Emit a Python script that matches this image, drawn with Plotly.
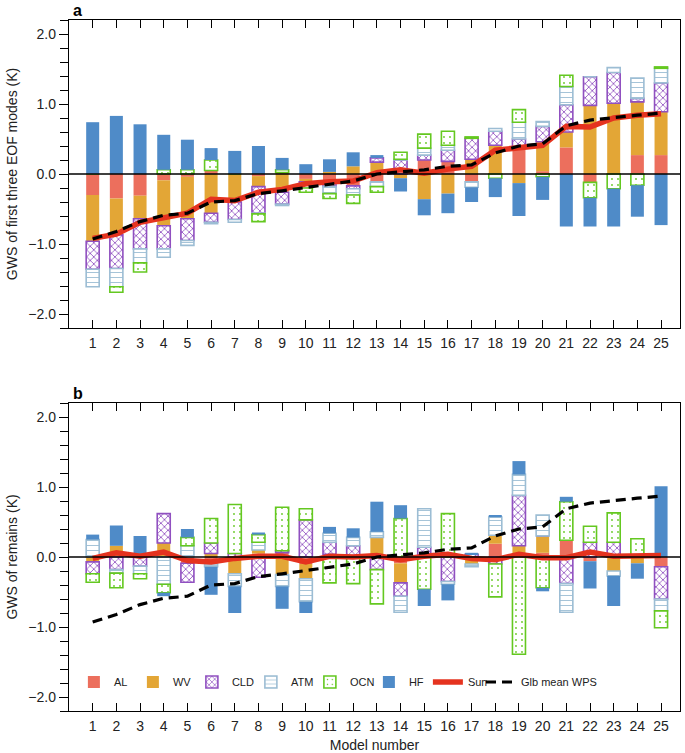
import plotly.graph_objects as go

models = list(range(1, 26))
tick_labels = [str(m) for m in models]

# ---------- Panel a: first three EOF modes ----------
AL_a = [-0.30, -0.35, -0.31, -0.09, -0.04, 0.05, 0.0, -0.03, 0.02, -0.07, -0.13, -0.17, -0.11,
        0.0, 0.20, 0.18, -0.11, 0.0, 0.39, 0.04, 0.38, -0.12, 0.0, 0.27, 0.27]
WV_a = [-0.66, -0.52, -0.33, -0.65, -0.60, -0.56, -0.40, -0.15, -0.26, -0.04, 0.03, 0.11, 0.17,
        -0.06, -0.36, -0.28, 0.21, 0.41, -0.13, 0.42, 0.22, 0.98, 1.01, 0.76, 0.62]
CLD_a = [-0.40, -0.48, -0.43, -0.33, -0.31, -0.13, -0.25, -0.38, -0.17, -0.03, -0.05, -0.04, 0.06,
         0.20, 0.07, 0.16, 0.30, 0.20, 0.11, 0.22, 0.39, 0.41, 0.44, 0.05, 0.41]
ATM_a = [-0.25, -0.26, -0.20, -0.12, -0.07, -0.02, -0.04, -0.01, -0.02, -0.06, -0.10, -0.09, -0.07,
         0.01, 0.10, 0.07, -0.08, 0.04, 0.24, 0.07, 0.26, 0.0, 0.07, 0.29, 0.21]
OCN_a = [0.0, -0.08, -0.13, 0.06, 0.06, 0.15, 0.0, -0.11, 0.04, -0.06, -0.07, -0.12, -0.08,
         0.10, 0.20, 0.20, 0.02, -0.06, 0.18, -0.04, 0.16, -0.22, -0.21, -0.16, 0.02]
HF_a = [0.74, 0.83, 0.71, 0.50, 0.43, 0.17, 0.33, 0.40, 0.17, 0.14, 0.18, 0.20, 0.04,
        -0.19, -0.23, -0.28, -0.21, -0.27, -0.47, -0.33, -0.75, -0.41, -0.54, -0.45, -0.73]
SUM_a = [-0.92, -0.86, -0.69, -0.62, -0.56, -0.36, -0.38, -0.26, -0.22, -0.14, -0.11, -0.10, 0.02,
         0.06, 0.01, 0.07, 0.11, 0.34, 0.38, 0.41, 0.68, 0.67, 0.80, 0.84, 0.86]

# Global mean WPS (shared by both panels)
WPS = [-0.93, -0.82, -0.68, -0.59, -0.56, -0.40, -0.38, -0.28, -0.24, -0.19, -0.14, -0.10, 0.0,
       0.03, 0.06, 0.11, 0.13, 0.30, 0.40, 0.43, 0.69, 0.77, 0.81, 0.84, 0.87]

# ---------- Panel b: remains ----------
AL_b = [0.0, 0.0, 0.0, 0.0, -0.09, -0.10, -0.03, 0.05, 0.06, -0.10, 0.0, 0.02, 0.04,
        -0.09, 0.03, 0.0, 0.0, 0.19, 0.05, 0.06, 0.24, -0.06, 0.0, 0.0, -0.14]
WV_b = [-0.07, 0.16, 0.0, 0.20, 0.0, 0.05, -0.21, 0.05, -0.25, -0.21, 0.04, 0.0, 0.24,
        -0.28, 0.0, 0.0, -0.10, 0.12, 0.11, 0.24, 0.0, 0.0, -0.20, -0.09, 0.0]
CLD_b = [-0.17, -0.18, -0.13, 0.42, -0.27, 0.15, 0.05, -0.29, 0.03, 0.53, 0.17, 0.14, -0.18,
         -0.19, 0.11, -0.35, 0.04, -0.10, 0.72, 0.0, -0.38, 0.21, 0.21, 0.0, -0.46]
ATM_b = [0.25, -0.05, -0.11, -0.39, 0.16, -0.04, -0.18, 0.11, -0.17, -0.33, 0.13, 0.12, 0.08,
         -0.23, 0.55, -0.04, -0.04, 0.26, 0.30, 0.30, -0.41, 0.0, -0.07, 0.0, -0.17]
OCN_b = [-0.12, -0.21, -0.07, -0.12, 0.12, 0.35, 0.70, 0.11, 0.62, 0.16, -0.37, -0.38, -0.49,
         0.55, -0.46, 0.62, 0.0, -0.47, -1.39, -0.44, 0.55, 0.23, 0.42, 0.26, -0.24]
HF_b = [0.07, 0.29, 0.30, -0.05, 0.12, -0.40, -0.38, 0.03, -0.32, -0.16, 0.09, 0.13, 0.43,
        0.19, -0.24, -0.23, 0.02, 0.03, 0.19, -0.05, 0.07, -0.39, -0.43, -0.22, 1.01]
SUM_b = [-0.02, 0.06, 0.01, 0.07, -0.05, -0.07, -0.02, 0.01, 0.01, -0.07, 0.01, 0.0, 0.02,
         -0.04, 0.01, 0.04, -0.02, -0.04, 0.04, -0.01, -0.01, 0.07, 0.01, 0.02, 0.02]

names = ["AL", "WV", "CLD", "ATM", "OCN", "HF"]
panel_a = [AL_a, WV_a, CLD_a, ATM_a, OCN_a, HF_a]
panel_b = [AL_b, WV_b, CLD_b, ATM_b, OCN_b, HF_b]

styles = {
    "AL": dict(color="#EC6F5D"),
    "WV": dict(color="#E3A636"),
    "CLD": dict(color="#9050C0", shape="x", size=5, solidity=0.3),
    "ATM": dict(color="#9CBDD4", shape="-", size=5, solidity=0.18),
    "OCN": dict(color="#64C820", shape=".", size=6, solidity=0.07),
    "HF": dict(color="#4F8BC8"),
}


def bar_marker(name):
    s = styles[name]
    if "shape" in s:
        return dict(color="white", line=dict(color=s["color"], width=1.6),
                    pattern=dict(shape=s["shape"], fgcolor=s["color"], bgcolor="white",
                                 size=s["size"], solidity=s["solidity"], fillmode="replace"))
    return dict(color=s["color"], line=dict(width=0))


fig = go.Figure()
for panel_idx, (comps, sums, xa, ya) in enumerate([(panel_a, SUM_a, "x", "y"),
                                                    (panel_b, SUM_b, "x2", "y2")]):
    for name, vals in zip(names, comps):
        fig.add_trace(go.Bar(x=models, y=vals, name=name, marker=bar_marker(name),
                             width=0.55, xaxis=xa, yaxis=ya, legendgroup=name,
                             showlegend=(panel_idx == 1)))
    fig.add_trace(go.Scatter(x=models, y=sums, mode="lines", name="Sum",
                             line=dict(color="#E5331F", width=5.5), xaxis=xa, yaxis=ya,
                             legendgroup="Sum", showlegend=(panel_idx == 1)))
    fig.add_trace(go.Scatter(x=models, y=WPS, mode="lines", name="Glb mean WPS",
                             line=dict(color="black", width=3.2, dash="10px,6px"),
                             xaxis=xa, yaxis=ya, legendgroup="WPS", legend="legend2",
                             showlegend=(panel_idx == 1)))

H_TOTAL = 691.0
W_PLOT = 611.0
top_dom = [1 - 308 / H_TOTAL, 1.0]
bot_dom = [0.0, 308 / H_TOTAL]

font_family = "Liberation Sans, Arial, sans-serif"

xaxis_common = dict(range=[0.0, 25.8], tickmode="array", tickvals=models, ticktext=tick_labels,
                    ticks="inside", ticklen=8, tickwidth=1.3, tickcolor="black",
                    showline=True, linecolor="black", linewidth=1.4, mirror="ticks",
                    showgrid=False, zeroline=False, tickfont=dict(size=14, color="#222"),
                    ticklabelstandoff=2, automargin=False)
yaxis_common = dict(range=[-2.2, 2.2], tickmode="array", tickvals=[-2, -1, 0, 1, 2],
                    tickformat=".1f", ticks="outside", ticklen=9, tickwidth=1.3,
                    tickcolor="black", showline=True, linecolor="black", linewidth=1.4,
                    mirror=True, showgrid=False, zeroline=False, automargin=False,
                    tickfont=dict(size=14, color="#222"),
                    minor=dict(dtick=0.2, tick0=0, ticks="outside", ticklen=8,
                               tickwidth=1.1, tickcolor="black", showgrid=False))

legend_common = dict(orientation="h", xref="paper", yref="paper", yanchor="middle",
                     xanchor="left", bgcolor="rgba(0,0,0,0)", font=dict(size=11, color="#222"),
                     tracegroupgap=0, traceorder="normal")

fig.update_layout(
    width=685, height=753,
    margin=dict(l=69, r=5, t=20, b=42, autoexpand=False),
    paper_bgcolor="white", plot_bgcolor="white",
    barmode="relative",
    font=dict(family=font_family, size=14, color="#222"),
    xaxis=dict(domain=[0, 1], anchor="y", **xaxis_common),
    yaxis=dict(domain=top_dom, anchor="x",
               title=dict(text="GWS of first three EOF modes (K)", standoff=7,
                          font=dict(size=14)), **yaxis_common),
    xaxis2=dict(domain=[0, 1], anchor="y2",
                title=dict(text="Model number", standoff=7, font=dict(size=14)),
                **xaxis_common),
    yaxis2=dict(domain=bot_dom, anchor="x2",
                title=dict(text="GWS of remains (K)", standoff=7, font=dict(size=14)),
                **yaxis_common),
    legend=dict(x=0.008, y=0.042, entrywidth=14, entrywidthmode="pixels", itemwidth=30,
                **legend_common),
    legend2=dict(x=(481 - 69) / W_PLOT, y=0.042, itemwidth=30, **legend_common),
    showlegend=True,
    shapes=[
        dict(type="line", xref="x domain", yref="y", x0=0, x1=1, y0=0, y1=0,
             line=dict(color="black", width=1.6), layer="above"),
        dict(type="line", xref="x2 domain", yref="y2", x0=0, x1=1, y0=0, y1=0,
             line=dict(color="black", width=1.6), layer="above"),
    ],
    annotations=[
        dict(text="<b>a</b>", xref="paper", yref="paper", x=0.004, y=1.0 + 20 / H_TOTAL,
             xanchor="left", yanchor="top", showarrow=False, font=dict(size=16, color="black")),
        dict(text="<b>b</b>", xref="paper", yref="paper", x=0.004, y=(711 - 383) / H_TOTAL,
             xanchor="left", yanchor="top", showarrow=False, font=dict(size=16, color="black")),
    ],
)

fig.write_html("out.html", config={"displayModeBar": False},
               post_script="document.body.style.margin='0px';")
